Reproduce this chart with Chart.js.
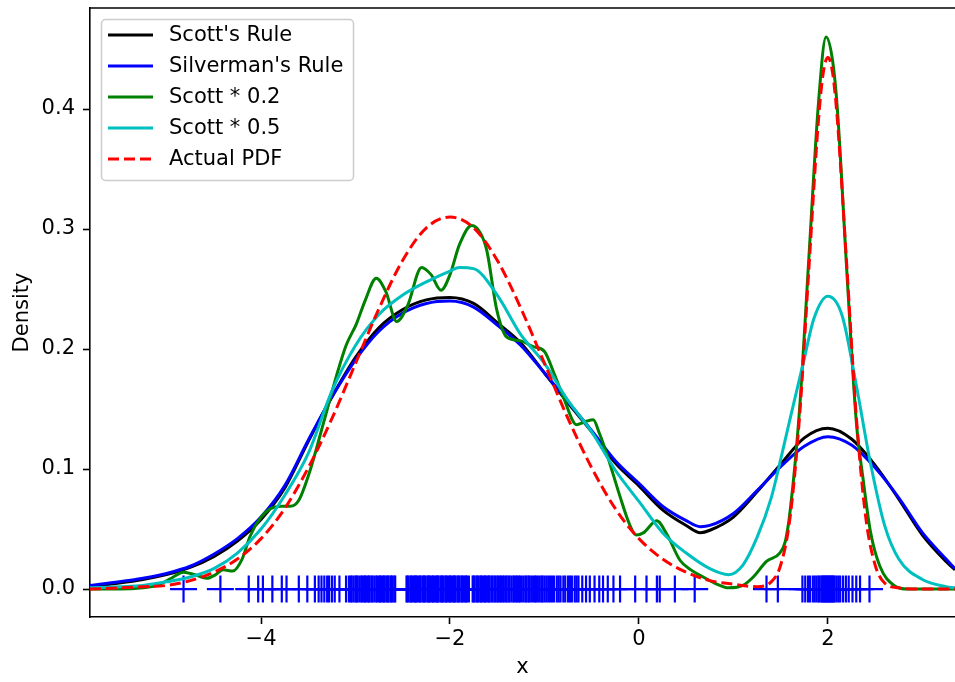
<!DOCTYPE html>
<html>
<head>
<meta charset="utf-8">
<title>KDE bandwidths</title>
<script src="https://cdn.jsdelivr.net/npm/chart.js@4.4.0/dist/chart.umd.min.js"></script>
<style>
  html, body { margin: 0; padding: 0; background: #fff; overflow: hidden; }
  canvas { display: block; }
</style>
</head>
<body>
<canvas id="kdeChart" width="955" height="682"></canvas>
<script>
// sample points shown as the rug along y = 0
const rugX = [-4.82, -4.43, -4.13, -4.03, -3.98, -3.88, -3.78, -3.73, -3.60, -3.51, -3.43, -3.39, -3.36, -3.33, -3.30, -3.28, -3.25, -3.22,
  -3.17, -3.10, -3.07, -3.05, -3.04, -3.02, -3.00, -2.99, -2.98, -2.96, -2.94, -2.93, -2.91, -2.90, -2.89, -2.87, -2.86, -2.85, -2.83,
  -2.82, -2.80, -2.78, -2.77, -2.75, -2.74, -2.73, -2.71, -2.70, -2.69, -2.67, -2.66, -2.65, -2.63, -2.62, -2.61, -2.59, -2.58, -2.46,
  -2.45, -2.44, -2.42, -2.41, -2.40, -2.38, -2.37, -2.36, -2.35, -2.33, -2.32, -2.31, -2.29, -2.28, -2.27, -2.26, -2.24, -2.23, -2.22,
  -2.21, -2.19, -2.18, -2.17, -2.15, -2.14, -2.13, -2.12, -2.10, -2.09, -2.08, -2.07, -2.05, -2.04, -2.03, -2.01, -2.00, -1.99, -1.97,
  -1.96, -1.95, -1.94, -1.92, -1.91, -1.90, -1.88, -1.87, -1.86, -1.84, -1.83, -1.82, -1.80, -1.76, -1.75, -1.74, -1.72, -1.71, -1.70,
  -1.68, -1.67, -1.66, -1.64, -1.63, -1.62, -1.60, -1.59, -1.58, -1.56, -1.55, -1.53, -1.52, -1.50, -1.49, -1.47, -1.46, -1.44, -1.43,
  -1.41, -1.40, -1.38, -1.37, -1.35, -1.33, -1.32, -1.30, -1.29, -1.27, -1.26, -1.24, -1.22, -1.20, -1.19, -1.17, -1.16, -1.14, -1.12,
  -1.10, -1.09, -1.07, -1.05, -1.03, -1.02, -1.00, -0.98, -0.96, -0.94, -0.92, -0.90, -0.87, -0.85, -0.83, -0.80, -0.78, -0.75, -0.73,
  -0.71, -0.68, -0.66, -0.64, -0.60, -0.56, -0.52, -0.47, -0.42, -0.38, -0.33, -0.27, -0.20, -0.04, 0.08, 0.19, 0.22, 0.38, 0.59, 1.35,
  1.47, 1.73, 1.76, 1.79, 1.81, 1.84, 1.86, 1.88, 1.90, 1.91, 1.93, 1.94, 1.95, 1.96, 1.97, 1.98, 1.99, 2.00, 2.01, 2.02, 2.03, 2.04,
  2.05, 2.06, 2.07, 2.09, 2.11, 2.13, 2.16, 2.19, 2.22, 2.26, 2.30, 2.34, 2.44];

// Scott's and Silverman's rule share the same x grid
const ruleX = [-5.81, -5.5, -5.25, -5.0, -4.75, -4.5, -4.25, -4.0, -3.75, -3.5, -3.25, -3.0, -2.75, -2.5, -2.25, -2.0, -1.75, -1.5,
  -1.25, -1.0, -0.75, -0.5, -0.25, 0, 0.25, 0.5, 0.65, 0.75, 1.0, 1.25, 1.5, 1.75, 2.0, 2.25, 2.5, 2.75, 3.0, 3.25, 3.345];
const scottY = [0.002, 0.005, 0.008, 0.012, 0.018, 0.027, 0.040, 0.058, 0.084, 0.123, 0.160, 0.193, 0.218, 0.233, 0.241, 0.243, 0.238,
  0.222, 0.205, 0.180, 0.155, 0.131, 0.105, 0.086, 0.066, 0.053, 0.047, 0.049, 0.060, 0.081, 0.104, 0.126, 0.134, 0.125, 0.103, 0.075,
  0.045, 0.023, 0.016];
const silvermanY = [0.003, 0.006, 0.009, 0.013, 0.019, 0.029, 0.042, 0.060, 0.086, 0.124, 0.160, 0.191, 0.215, 0.230, 0.238, 0.240,
  0.235, 0.220, 0.203, 0.180, 0.156, 0.132, 0.107, 0.088, 0.069, 0.057, 0.052, 0.053, 0.063, 0.082, 0.102, 0.119, 0.127, 0.120, 0.101,
  0.076, 0.047, 0.025, 0.017];

// Scott * 0.2
const narrowX = [-5.81, -5.5, -5.25, -5.1, -4.95, -4.82, -4.7, -4.575, -4.48, -4.40, -4.3, -4.2, -4.116, -4.0, -3.9, -3.78, -3.69, -3.6,
  -3.48, -3.34, -3.2, -3.1, -2.99, -2.9, -2.78, -2.68, -2.564, -2.45, -2.3, -2.2, -2.095, -2.0, -1.9, -1.77, -1.68, -1.61, -1.506, -1.40,
  -1.26, -1.12, -1.0, -0.9, -0.80, -0.66, -0.55, -0.484, -0.42, -0.342, -0.2, -0.1, -0.03, 0.05, 0.187, 0.3, 0.434, 0.55, 0.68, 0.8,
  0.95, 1.1, 1.21, 1.35, 1.49, 1.55, 1.6, 1.7, 1.8, 1.9, 1.98, 2.05, 2.1, 2.2, 2.3, 2.375, 2.45, 2.55, 2.7, 2.85, 3.345];
const narrowY = [0.000, 0.000, 0.001, 0.003, 0.009, 0.014, 0.012, 0.009, 0.012, 0.016, 0.015, 0.025, 0.044, 0.060, 0.067, 0.069, 0.069,
  0.074, 0.099, 0.138, 0.178, 0.203, 0.221, 0.240, 0.259, 0.248, 0.223, 0.236, 0.268, 0.262, 0.249, 0.262, 0.287, 0.303, 0.297, 0.282,
  0.233, 0.210, 0.207, 0.202, 0.198, 0.180, 0.160, 0.137, 0.140, 0.141, 0.130, 0.113, 0.077, 0.054, 0.045, 0.047, 0.057, 0.045, 0.024,
  0.016, 0.010, 0.005, 0.001, 0.003, 0.010, 0.023, 0.030, 0.040, 0.065, 0.150, 0.278, 0.405, 0.460, 0.440, 0.400, 0.265, 0.140, 0.090,
  0.048, 0.019, 0.003, 0.000, 0.000];

// Scott * 0.5
const halfX = [-5.81, -5.5, -5.25, -5.0, -4.75, -4.5, -4.25, -4.0, -3.75, -3.5, -3.25, -3.0, -2.75, -2.5, -2.25, -2.0, -1.9, -1.75,
  -1.5, -1.25, -1.0, -0.75, -0.5, -0.25, 0.0, 0.25, 0.5, 0.75, 0.95, 1.1, 1.25, 1.4, 1.5, 1.6, 1.75, 1.85, 2.0, 2.15, 2.3, 2.45, 2.6,
  2.75, 3.0, 3.25, 3.345];
const halfY = [0.001, 0.002, 0.003, 0.006, 0.010, 0.017, 0.030, 0.050, 0.078, 0.113, 0.165, 0.203, 0.229, 0.245, 0.256, 0.265, 0.268,
  0.267, 0.245, 0.212, 0.188, 0.157, 0.131, 0.099, 0.073, 0.047, 0.030, 0.017, 0.012, 0.020, 0.043, 0.076, 0.108, 0.142, 0.192, 0.225,
  0.244, 0.228, 0.170, 0.105, 0.053, 0.025, 0.008, 0.002, 0.001];

// actual pdf
const pdfX = [-5.81, -5.5, -5.25, -5.0, -4.75, -4.5, -4.25, -4.0, -3.75, -3.5, -3.25, -3.0, -2.75, -2.5, -2.25, -2.0, -1.75, -1.5,
  -1.25, -1.0, -0.75, -0.5, -0.25, 0, 0.25, 0.5, 0.75, 1.0, 1.25, 1.4, 1.5, 1.6, 1.7, 1.8, 1.9, 1.95, 2.0, 2.05, 2.1, 2.2, 2.3, 2.4,
  2.5, 2.6, 2.75, 3.0, 3.345];
const pdfY = [0.000, 0.001, 0.002, 0.003, 0.007, 0.014, 0.025, 0.042, 0.067, 0.101, 0.142, 0.188, 0.234, 0.274, 0.301, 0.310, 0.301,
  0.274, 0.234, 0.188, 0.142, 0.101, 0.067, 0.042, 0.025, 0.014, 0.007, 0.004, 0.002, 0.006, 0.020, 0.060, 0.144, 0.269, 0.391, 0.430,
  0.443, 0.430, 0.391, 0.269, 0.144, 0.060, 0.020, 0.005, 0.001, 0.000, 0.000];

const xTicks = [-4, -2, 0, 2];
const yTicks = [0.0, 0.1, 0.2, 0.3, 0.4];

const pts = (xs, ys) => xs.map((x, i) => ({ x: x, y: ys[i] }));
const tickFont = { family: 'DejaVu Sans', size: 21 };

function curve(label, xs, ys, color, order, dash) {
  return {
    label: label,
    data: pts(xs, ys),
    showLine: true,
    borderColor: color,
    backgroundColor: color,
    borderWidth: 3,
    borderDash: dash || [],
    pointRadius: 0,
    cubicInterpolationMode: 'monotone',
    fill: false,
    order: order
  };
}

// matplotlib style legend box inside the axes
const legendBox = {
  id: 'legendBox',
  afterDraw(chart) {
    const ctx = chart.ctx;
    const area = chart.chartArea;
    const items = chart.data.datasets.filter(d => d.label);
    const x0 = area.left + 11, y0 = area.top + 11;
    ctx.save();
    ctx.beginPath();
    ctx.roundRect(x0 + 0.5, y0 + 0.5, 252, 161, 4);
    ctx.fillStyle = 'rgba(255,255,255,0.8)';
    ctx.fill();
    ctx.strokeStyle = '#cccccc';
    ctx.lineWidth = 1.5;
    ctx.stroke();
    ctx.font = '21px "DejaVu Sans"';
    ctx.textBaseline = 'middle';
    items.forEach((d, i) => {
      const cy = y0 + 16 + i * 31;
      ctx.beginPath();
      ctx.setLineDash(d.borderDash);
      ctx.strokeStyle = d.borderColor;
      ctx.lineWidth = 3;
      ctx.moveTo(x0 + 7, cy);
      ctx.lineTo(x0 + 52, cy);
      ctx.stroke();
      ctx.setLineDash([]);
      ctx.fillStyle = '#000';
      ctx.fillText(d.label, x0 + 68, cy + 1);
    });
    ctx.restore();
  }
};

// top spine
const topSpine = {
  id: 'topSpine',
  afterDatasetsDraw(chart) {
    const ctx = chart.ctx;
    const a = chart.chartArea;
    ctx.save();
    ctx.strokeStyle = '#000';
    ctx.lineWidth = 1.6;
    ctx.beginPath();
    ctx.moveTo(a.left, a.top);
    ctx.lineTo(a.right, a.top);
    ctx.stroke();
    ctx.restore();
  }
};

new Chart(document.getElementById('kdeChart'), {
  type: 'scatter',
  data: {
    datasets: [
      {
        label: '',
        data: rugX.map(x => ({ x: x, y: 0 })),
        pointStyle: 'cross',
        pointRadius: 13.5,
        borderWidth: 2.2,
        pointBorderWidth: 2.2,
        borderColor: '#0000ff',
        pointBorderColor: '#0000ff',
        backgroundColor: '#0000ff',
        order: 6
      },
      curve("Scott's Rule", ruleX, scottY, '#000000', 5),
      curve("Silverman's Rule", ruleX, silvermanY, '#0000ff', 4),
      curve('Scott * 0.2', narrowX, narrowY, '#008000', 3),
      curve('Scott * 0.5', halfX, halfY, '#00bfbf', 2),
      curve('Actual PDF', pdfX, pdfY, '#ff0000', 1, [11, 5])
    ]
  },
  options: {
    responsive: false,
    animation: false,
    devicePixelRatio: 1,
    layout: { autoPadding: false, padding: { top: 8, right: 0, bottom: 0, left: 0 } },
    plugins: {
      legend: { display: false },
      tooltip: { enabled: false }
    },
    scales: {
      x: {
        type: 'linear',
        min: -5.81,
        max: 3.345,
        afterBuildTicks: s => { s.ticks = xTicks.map(v => ({ value: v })); },
        afterFit: s => { s.height = 65; s.paddingLeft = 0; s.paddingRight = 0; },
        grid: { drawOnChartArea: false, drawTicks: true, tickLength: 7, tickWidth: 1.6, tickColor: '#000' },
        border: { display: true, color: '#000', width: 1.6 },
        ticks: {
          color: '#000',
          font: tickFont,
          padding: 3,
          maxRotation: 0,
          callback: v => (v < 0 ? '\u2212' + Math.abs(v) : String(v))
        },
        title: { display: true, text: 'x', color: '#000', font: tickFont, padding: { top: 0, bottom: 2 } }
      },
      y: {
        type: 'linear',
        min: -0.0233,
        max: 0.4842,
        afterBuildTicks: s => { s.ticks = yTicks.map(v => ({ value: v })); },
        afterFit: s => { s.width = 90; s.paddingTop = 0; s.paddingBottom = 0; },
        grid: { drawOnChartArea: false, drawTicks: true, tickLength: 7, tickWidth: 1.6, tickColor: '#000' },
        border: { display: true, color: '#000', width: 1.6 },
        ticks: {
          color: '#000',
          font: tickFont,
          padding: 8,
          callback: v => v.toFixed(1)
        },
        title: { display: true, text: 'Density', color: '#000', font: tickFont, padding: { top: 10, bottom: 0 } }
      }
    }
  },
  plugins: [legendBox, topSpine]
});
</script>
</body>
</html>
